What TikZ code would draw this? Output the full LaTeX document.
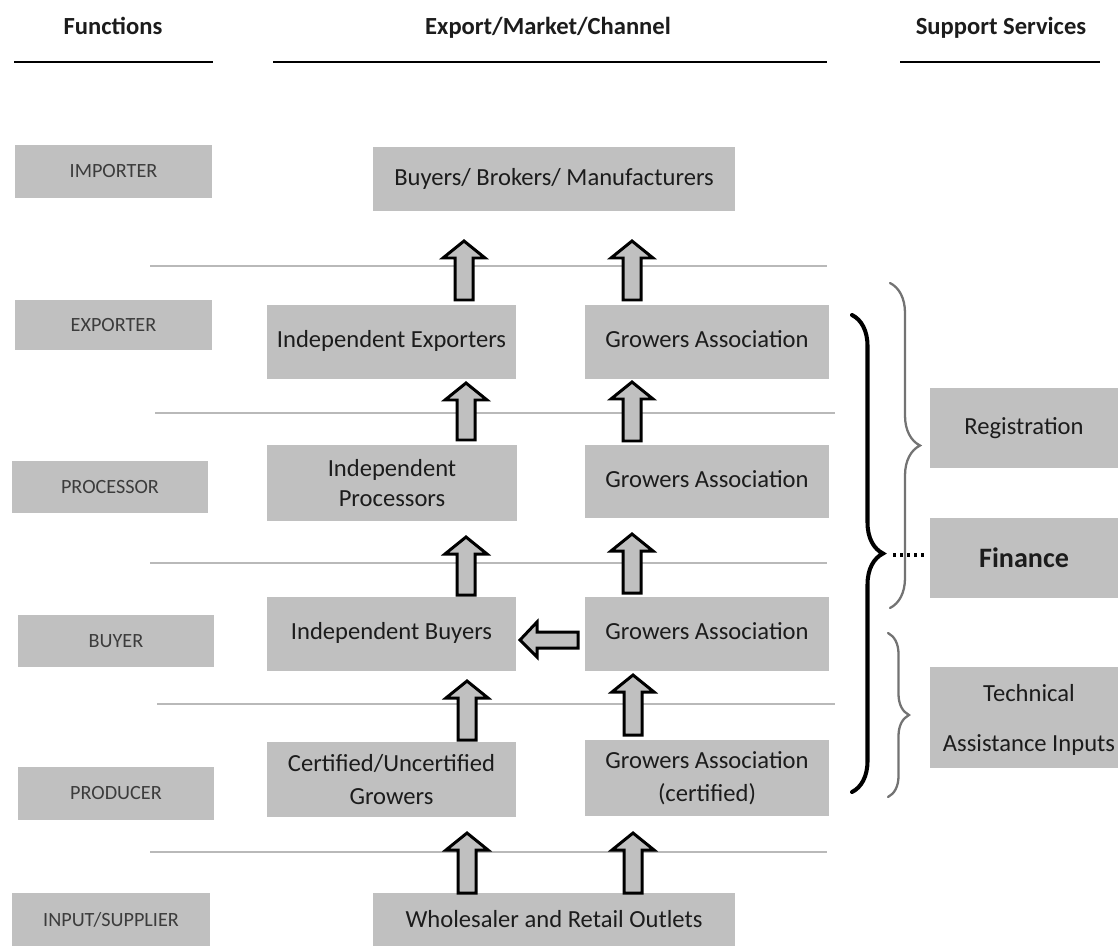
\documentclass[tikz,border=0pt]{standalone}
\usepackage{fontspec}
\setmainfont{Carlito}
\usetikzlibrary{decorations.pathreplacing,calc}
\definecolor{boxgray}{RGB}{192,192,192}
\definecolor{txt}{RGB}{28,28,28}
\definecolor{lbl}{RGB}{60,60,60}
\definecolor{rulegray}{RGB}{185,185,185}
\definecolor{bracegray}{RGB}{115,115,115}
\begin{document}
\begin{tikzpicture}[x=0.02cm,y=-0.02cm,
 box/.style={fill=boxgray, inner sep=0pt, align=center, text=txt, font=\fontsize{14}{17}\selectfont},
 fnbox/.style={box, text=lbl, font=\fontsize{11.5}{14}\selectfont},
 sz/.style 2 args={minimum width=#1*0.02cm, minimum height=#2*0.02cm},
 head/.style={font=\bfseries\fontsize{14}{17}\selectfont, text=txt, anchor=base},
 hrule/.style={line width=1.7pt, black},
 sep/.style={rulegray, line width=0.9pt},
 blockarrow/.style={draw=black, fill=boxgray, line width=1.7pt, line join=miter},
 pics/uparr/.style={code={\path[blockarrow] (-9,0) -- (-9,-#1+17) -- (-21,-#1+17) -- (0,-#1) -- (21,-#1+17) -- (9,-#1+17) -- (9,0) -- cycle;}},
 blackbrace/.style={draw=black, line width=2.3pt, decorate, line cap=round},
 graybrace/.style={draw=bracegray, line width=1.3pt, decorate, line cap=round},
 dotline/.style={draw=black, line width=1.8pt, dash pattern=on 1.8pt off 2.2pt},
]
\useasboundingbox (0,0) rectangle (1118,946);

% headers
\node[head] (hfun) at (113,35) {Functions};
\node[head] (hexp) at (548,35) {Export/Market/Channel};
\node[head] (hsup) at (1001,35) {Support Services};
\draw[hrule] (14,62) -- (213,62);
\draw[hrule] (273,62) -- (827,62);
\draw[hrule] (900,62) -- (1100,62);

% separator lines
\draw[sep] (150,266) -- (827,266);
\draw[sep] (155,413) -- (835,413);
\draw[sep] (150,563) -- (827,563);
\draw[sep] (157,704) -- (835,704);
\draw[sep] (150,852) -- (827,852);

% function boxes
\node[fnbox, sz={197}{53}] (fimp) at (113.5,171.5) {IMPORTER};
\node[fnbox, sz={197}{50}] (fexp) at (113.5,325) {EXPORTER};
\node[fnbox, sz={196}{52}] (fpro) at (110,487) {PROCESSOR};
\node[fnbox, sz={196}{52}] (fbuy) at (116,641) {BUYER};
\node[fnbox, sz={196}{53}] (fprd) at (116,793.5) {PRODUCER};
\node[fnbox, sz={198}{53}] (finp) at (111,919.5) {INPUT/SUPPLIER};

% channel boxes
\node[box, sz={362}{64}] (bbm) at (554,179) {Buyers/ Brokers/ Manufacturers};
\node[box, sz={249}{74}] (ie) at (391.5,342) {Independent Exporters\strut};
\node[box, sz={244}{74}] (gae) at (707,342) {Growers Association\strut};
\node[box, sz={250}{76}] (ip) at (392,483) {Independent\\Processors};
\node[box, sz={244}{73}] (gap) at (707,481.5) {Growers Association\strut};
\node[box, sz={249}{74}] (ib) at (391.5,634) {Independent Buyers\strut};
\node[box, sz={244}{74}] (gab) at (707,634) {Growers Association\strut};
\node[box, sz={249}{75}, font=\fontsize{14}{19}\selectfont] (cu) at (391.5,779.5) {Certified/Uncertified\\Growers};
\node[box, sz={244}{76}, font=\fontsize{14}{19}\selectfont] (gac) at (707,778) {Growers Association\\(certified)};
\node[box, sz={362}{53}] (wr) at (554,919.5) {Wholesaler and Retail Outlets};

% support boxes
\node[box, sz={188}{80}] (reg) at (1024,428) {Registration};
\node[box, sz={188}{80}, font=\bfseries\fontsize{16}{19}\selectfont] (fin) at (1024,558) {Finance};
\node[box, sz={188}{101}] (tec) at (1024,717.5) {};
\node[text=txt, font=\fontsize{14}{28}\selectfont, align=center, inner sep=0pt] (tect) at (1029,720) {Technical\\Assistance Inputs};

% block arrows
\pic at (464,300) {uparr=59};
\pic at (632,300) {uparr=59};
\pic at (466,440) {uparr=57};
\pic at (632,441) {uparr=59};
\pic at (466,595) {uparr=58};
\pic at (632,593) {uparr=59};
\pic at (467,740) {uparr=59};
\pic at (633,735) {uparr=60};
\pic at (467,893) {uparr=60};
\pic at (633,893) {uparr=60};
\path[blockarrow] (578,632) -- (537,632) -- (537,622) -- (520,640) -- (537,657) -- (537,648) -- (578,648) -- cycle;

% braces
\draw[graybrace, decoration={brace, amplitude=0.6cm}] (890,283) -- (890,608);
\draw[graybrace, decoration={brace, amplitude=0.42cm}] (888,633) -- (888,797);
\draw[blackbrace, decoration={brace, amplitude=0.62cm}] (852,315) -- (852,792);
\coordinate (btip) at (883,555);
\draw[dotline, shorten <=0.2cm, shorten >=0.1cm] (btip) -- (btip -| fin.west);
\end{tikzpicture}
\end{document}
